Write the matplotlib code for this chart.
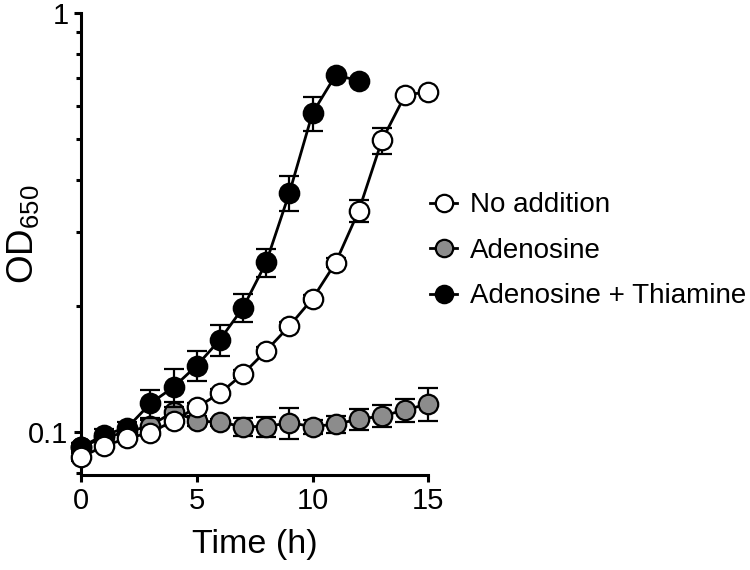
import numpy as np
import matplotlib
matplotlib.use("Agg")
import matplotlib.pyplot as plt
from matplotlib.lines import Line2D
from matplotlib.ticker import LogLocator, FixedFormatter, FixedLocator, NullFormatter

plt.rcParams['font.family'] = ['Liberation Sans', 'DejaVu Sans']
plt.rcParams['mathtext.default'] = 'regular'

# Growth curves (OD650 vs time)
t_none = np.arange(0, 16)
od_none = [0.087, 0.0926, 0.0966, 0.0996, 0.1064, 0.1145, 0.1237, 0.1376,
           0.1563, 0.179, 0.208, 0.2536, 0.3375, 0.497, 0.637, 0.649]
sd_none = [0.002, 0.002, 0.002, 0.002, 0.003, 0.003, 0.003, 0.003,
           0.003, 0.004, 0.004, 0.006, 0.021, 0.035, 0.0, 0.0]

t_ado = np.arange(0, 16)
od_ado = [0.092, 0.097, 0.1, 0.1035, 0.1118, 0.1062, 0.1055, 0.103,
          0.103, 0.1052, 0.103, 0.1044, 0.1072, 0.1092, 0.1128, 0.1167]
sd_ado = [0.002, 0.002, 0.002, 0.003, 0.006, 0.003, 0.002, 0.005,
          0.0055, 0.009, 0.004, 0.0048, 0.006, 0.0065, 0.007, 0.0105]

t_thi = np.arange(0, 13)
od_thi = [0.092, 0.0984, 0.1024, 0.117, 0.128, 0.144, 0.166, 0.198,
          0.254, 0.372, 0.577, 0.711, 0.69]
sd_thi = [0.002, 0.003, 0.003, 0.009, 0.013, 0.012, 0.014, 0.015,
          0.019, 0.036, 0.055, 0.0, 0.0]

fig = plt.figure(figsize=(7.5, 5.7), dpi=100)
ax = fig.add_axes([0.108, 0.167, 0.463, 0.81])

series = [
    (t_ado, od_ado, sd_ado, '#8c8c8c', 'Adenosine'),
    (t_thi, od_thi, sd_thi, 'black', 'Adenosine + Thiamine'),
    (t_none, od_none, sd_none, 'white', 'No addition'),
]
handles = {}
for i, (t, od, sd, fc, lab) in enumerate(series):
    h = ax.errorbar(t, od, yerr=sd, fmt='-o', color='black', mfc=fc, mec='black',
                    mew=1.6, ms=14, lw=2.0, elinewidth=1.6, capsize=7.5,
                    capthick=1.6, clip_on=False, zorder=3 + i)
    for art in h.lines[1] + h.lines[2]:
        art.set_clip_on(False)
    handles[lab] = Line2D([], [], color='black', lw=2.0, marker='o', ms=12.5,
                          mfc=fc, mec='black', mew=1.6)

ax.set_yscale('log')
ax.set_ylim(0.079, 1)
ax.set_xlim(0, 15)
ax.yaxis.set_major_locator(FixedLocator([0.1, 1]))
ax.yaxis.set_major_formatter(FixedFormatter(['0.1', '1']))
ax.yaxis.set_minor_locator(LogLocator(base=10, subs=np.arange(2, 10)))
ax.yaxis.set_minor_formatter(NullFormatter())
ax.set_xticks([0, 5, 10, 15])

for s in ['top', 'right']:
    ax.spines[s].set_visible(False)
for s in ['left', 'bottom']:
    ax.spines[s].set_linewidth(2.2)
ax.tick_params(axis='both', which='major', length=5, width=2.2, labelsize=21, pad=4)
ax.tick_params(axis='y', which='minor', length=3.5, width=2.2)

ax.set_xlabel('Time (h)', fontsize=24.5, labelpad=10)
ax.set_ylabel('OD$_{650}$', fontsize=26.5)
ax.yaxis.set_label_coords(-0.114, 0.52)

order = ['No addition', 'Adenosine', 'Adenosine + Thiamine']
leg = fig.legend([handles[k] for k in order], order, loc='center left',
                 bbox_to_anchor=(0.547, 0.56), frameon=False, fontsize=20,
                 handlelength=1.0, handletextpad=0.45, labelspacing=0.7,
                 borderpad=0.2)

fig.savefig('out.png', dpi=100)
